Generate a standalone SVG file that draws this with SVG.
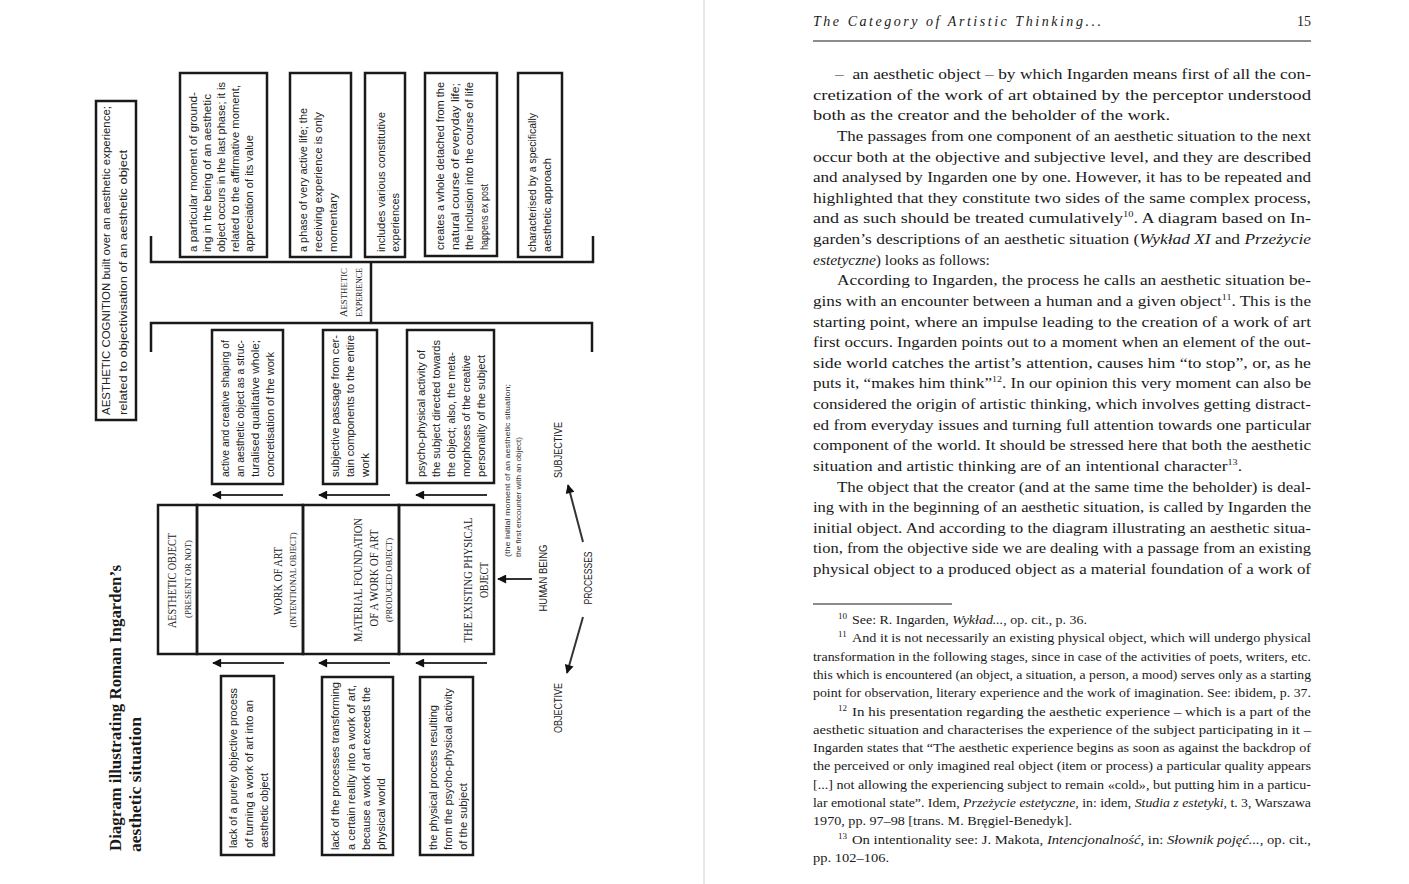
<svg xmlns="http://www.w3.org/2000/svg" width="1409" height="884" viewBox="0 0 1409 884">
<defs>
<style>
.bx{fill:none;stroke:#1a1a1a;stroke-width:2.5}
.ln{fill:none;stroke:#1a1a1a;stroke-width:2.5}
.ar{fill:none;stroke:#333;stroke-width:2}
.bt{font-family:"Liberation Sans",Arial,sans-serif;font-size:11px;fill:#222}
.cp{font-family:"Liberation Serif","Times New Roman",serif;font-size:12px;fill:#222}
.cs{font-family:"Liberation Serif","Times New Roman",serif;font-size:8.5px;fill:#222}
.nr{font-family:"Liberation Sans",Arial,sans-serif;font-size:11px;fill:#222}
.sm{font-family:"Liberation Sans",Arial,sans-serif;font-size:8px;fill:#333}
.ti{font-family:"Liberation Serif","Times New Roman",serif;font-size:17px;font-weight:bold;fill:#1a1a1a}
.bd{font-family:"Liberation Serif","Times New Roman",serif;font-size:15.5px;fill:#1a1a1a}
.fn{font-family:"Liberation Serif","Times New Roman",serif;font-size:12.8px;fill:#1a1a1a}
.hd{font-family:"Liberation Serif","Times New Roman",serif;font-size:14px;font-style:italic;fill:#1a1a1a}
.pg{font-family:"Liberation Serif","Times New Roman",serif;font-size:14px;fill:#1a1a1a}
.sup{font-size:9px}
.fsup{font-family:"Liberation Serif","Times New Roman",serif;font-size:9px;fill:#1a1a1a}
</style>
<marker id="ah" viewBox="0 0 10 10" refX="9" refY="5" markerWidth="12" markerHeight="9" markerUnits="userSpaceOnUse" orient="auto"><path d="M0,0 L10,5 L0,10 z" fill="#111"/></marker>
</defs>
<rect width="1409" height="884" fill="#fff"/>
<line x1="704" y1="0" x2="704" y2="884" stroke="#d0d0d0" stroke-width="1"/>

<!-- Title -->
<g id="title">
<text class="ti" transform="translate(121,851) rotate(-90)" textLength="286" lengthAdjust="spacingAndGlyphs">Diagram illustrating Roman Ingarden’s</text>
<text class="ti" transform="translate(141,852) rotate(-90)" textLength="135" lengthAdjust="spacingAndGlyphs">aesthetic situation</text>
</g>

<g id="aesthetic-cognition">
<rect class="bx" x="96" y="101" width="40" height="319"/>
<text class="bt" transform="translate(110,415) rotate(-90)" textLength="309" lengthAdjust="spacingAndGlyphs">AESTHETIC COGNITION built over an aesthetic experience;</text>
<text class="bt" transform="translate(127,415) rotate(-90)" textLength="265" lengthAdjust="spacingAndGlyphs">related to objectivisation of an aesthetic object</text>
</g>

<!-- top boxes -->
<g id="top-1">
<rect class="bx" x="180" y="73" width="87" height="184"/>
<text class="bt" transform="translate(197,252) rotate(-90)" textLength="160" lengthAdjust="spacingAndGlyphs">a particular moment of ground-</text>
<text class="bt" transform="translate(211,252) rotate(-90)" textLength="158" lengthAdjust="spacingAndGlyphs">ing in the being of an aesthetic</text>
<text class="bt" transform="translate(225,252) rotate(-90)" textLength="170" lengthAdjust="spacingAndGlyphs">object occurs in the last phase; it is</text>
<text class="bt" transform="translate(239,252) rotate(-90)" textLength="167" lengthAdjust="spacingAndGlyphs">related to the affirmative moment,</text>
<text class="bt" transform="translate(253,252) rotate(-90)" textLength="117" lengthAdjust="spacingAndGlyphs">appreciation of its value</text>
</g>
<g id="top-2">
<rect class="bx" x="290" y="73" width="61" height="184"/>
<text class="bt" transform="translate(307,252) rotate(-90)" textLength="144" lengthAdjust="spacingAndGlyphs">a phase of very active life; the</text>
<text class="bt" transform="translate(322,252) rotate(-90)" textLength="140" lengthAdjust="spacingAndGlyphs">receiving experience is only</text>
<text class="bt" transform="translate(337,252) rotate(-90)" textLength="59" lengthAdjust="spacingAndGlyphs">momentary</text>
</g>
<g id="top-3">
<rect class="bx" x="365" y="73" width="40" height="184"/>
<text class="bt" transform="translate(385,252) rotate(-90)" textLength="140" lengthAdjust="spacingAndGlyphs">includes various constitutive</text>
<text class="bt" transform="translate(399,252) rotate(-90)" textLength="59" lengthAdjust="spacingAndGlyphs">experiences</text>
</g>
<g id="top-4">
<rect class="bx" x="425" y="73" width="72" height="183"/>
<text class="bt" transform="translate(444,250) rotate(-90)" textLength="168" lengthAdjust="spacingAndGlyphs">creates a whole detached from the</text>
<text class="bt" transform="translate(458.5,250) rotate(-90)" textLength="167" lengthAdjust="spacingAndGlyphs">natural course of everyday life;</text>
<text class="bt" transform="translate(473,250) rotate(-90)" textLength="168" lengthAdjust="spacingAndGlyphs">the inclusion into the course of life</text>
<text class="bt" transform="translate(487.5,250) rotate(-90)" textLength="66" lengthAdjust="spacingAndGlyphs">happens ex post</text>
</g>
<g id="top-5">
<rect class="bx" x="518" y="73" width="44" height="184"/>
<text class="bt" transform="translate(536,252) rotate(-90)" textLength="139" lengthAdjust="spacingAndGlyphs">characterised by a specifically</text>
<text class="bt" transform="translate(551,252) rotate(-90)" textLength="94" lengthAdjust="spacingAndGlyphs">aesthetic approach</text>
</g>

<g id="aesthetic-experience">
<path class="ln" d="M151,236 V262 H593 V236"/>
<path class="ln" d="M151,352 V323 H592 V352"/>
<path class="ln" d="M371,262 V323"/>
<text class="cs" transform="translate(347,317) rotate(-90)" textLength="49" lengthAdjust="spacingAndGlyphs"><tspan font-size="10">A</tspan>ESTHETIC</text>
<text class="cs" transform="translate(362,317) rotate(-90)" textLength="49" lengthAdjust="spacingAndGlyphs">EXPERIENCE</text>
</g>

<!-- middle boxes -->
<g id="mid-1">
<rect class="bx" x="212" y="330" width="71" height="154"/>
<text class="bt" transform="translate(229,477) rotate(-90)" textLength="137" lengthAdjust="spacingAndGlyphs">active and creative shaping of</text>
<text class="bt" transform="translate(244,477) rotate(-90)" textLength="137" lengthAdjust="spacingAndGlyphs">an aesthetic object as a struc-</text>
<text class="bt" transform="translate(259,477) rotate(-90)" textLength="137" lengthAdjust="spacingAndGlyphs">turalised qualitative whole;</text>
<text class="bt" transform="translate(274,477) rotate(-90)" textLength="125" lengthAdjust="spacingAndGlyphs">concretisation of the work</text>
</g>
<g id="mid-2">
<rect class="bx" x="323" y="330" width="54" height="154"/>
<text class="bt" transform="translate(339,477) rotate(-90)" textLength="142" lengthAdjust="spacingAndGlyphs">subjective  passage  from  cer-</text>
<text class="bt" transform="translate(354,477) rotate(-90)" textLength="142" lengthAdjust="spacingAndGlyphs">tain components to the entire</text>
<text class="bt" transform="translate(369,477) rotate(-90)" textLength="24" lengthAdjust="spacingAndGlyphs">work</text>
</g>
<g id="mid-3">
<rect class="bx" x="407" y="330" width="87" height="153"/>
<text class="bt" transform="translate(425,477) rotate(-90)" textLength="127" lengthAdjust="spacingAndGlyphs">psycho-physical activity of</text>
<text class="bt" transform="translate(440,477) rotate(-90)" textLength="137" lengthAdjust="spacingAndGlyphs">the subject directed towards</text>
<text class="bt" transform="translate(455,477) rotate(-90)" textLength="125" lengthAdjust="spacingAndGlyphs">the object; also, the meta-</text>
<text class="bt" transform="translate(470,477) rotate(-90)" textLength="122" lengthAdjust="spacingAndGlyphs">morphoses of the creative</text>
<text class="bt" transform="translate(485,477) rotate(-90)" textLength="122" lengthAdjust="spacingAndGlyphs">personality of the subject</text>
</g>

<!-- main box -->
<g id="aesthetic-object">
<rect class="bx" x="158" y="505" width="39" height="149"/>
<text class="cp" transform="translate(176,580.5) rotate(-90)" text-anchor="middle" textLength="95" lengthAdjust="spacingAndGlyphs">AESTHETIC OBJECT</text>
<text class="cs" transform="translate(191,579) rotate(-90)" text-anchor="middle" textLength="78" lengthAdjust="spacingAndGlyphs">(PRESENT OR NOT)</text>
</g>
<g id="work-of-art">
<rect class="bx" x="197" y="505" width="106" height="149"/>
<text class="cp" transform="translate(282,581) rotate(-90)" text-anchor="middle" textLength="68" lengthAdjust="spacingAndGlyphs">WORK OF ART</text>
<text class="cs" transform="translate(296,580) rotate(-90)" text-anchor="middle" textLength="95" lengthAdjust="spacingAndGlyphs">(INTENTIONAL OBJECT)</text>
</g>
<g id="material-foundation">
<rect class="bx" x="303" y="505" width="96" height="149"/>
<text class="cp" transform="translate(362,580) rotate(-90)" text-anchor="middle" textLength="124" lengthAdjust="spacingAndGlyphs">MATERIAL FOUNDATION</text>
<text class="cp" transform="translate(378,578) rotate(-90)" text-anchor="middle" textLength="97" lengthAdjust="spacingAndGlyphs">OF A WORK OF ART</text>
<text class="cs" transform="translate(392,580) rotate(-90)" text-anchor="middle" textLength="84" lengthAdjust="spacingAndGlyphs">(PRODUCED OBJECT)</text>
</g>
<g id="existing-physical-object">
<rect class="bx" x="399" y="505" width="95" height="149"/>
<text class="cp" transform="translate(472,580) rotate(-90)" text-anchor="middle" textLength="125" lengthAdjust="spacingAndGlyphs">THE EXISTING PHYSICAL</text>
<text class="cp" transform="translate(488,580) rotate(-90)" text-anchor="middle" textLength="36" lengthAdjust="spacingAndGlyphs">OBJECT</text>
</g>

<!-- bottom boxes -->
<g id="bot-1">
<rect class="bx" x="221" y="676" width="53" height="179"/>
<text class="bt" transform="translate(237,848) rotate(-90)" textLength="160" lengthAdjust="spacingAndGlyphs">lack of a purely objective process</text>
<text class="bt" transform="translate(253,848) rotate(-90)" textLength="148" lengthAdjust="spacingAndGlyphs">of turning a work of art into an</text>
<text class="bt" transform="translate(268,848) rotate(-90)" textLength="75" lengthAdjust="spacingAndGlyphs">aesthetic object</text>
</g>
<g id="bot-2">
<rect class="bx" x="322" y="677" width="71" height="178"/>
<text class="bt" transform="translate(339,850) rotate(-90)" textLength="168" lengthAdjust="spacingAndGlyphs">lack of the processes transforming</text>
<text class="bt" transform="translate(355,850) rotate(-90)" textLength="165" lengthAdjust="spacingAndGlyphs">a certain reality into a work of art,</text>
<text class="bt" transform="translate(370,850) rotate(-90)" textLength="163" lengthAdjust="spacingAndGlyphs">because a work of art exceeds the</text>
<text class="bt" transform="translate(385,850) rotate(-90)" textLength="72" lengthAdjust="spacingAndGlyphs">physical world</text>
</g>
<g id="bot-3">
<rect class="bx" x="420" y="677" width="53" height="178"/>
<text class="bt" transform="translate(437,850) rotate(-90)" textLength="145" lengthAdjust="spacingAndGlyphs">the physical process resulting</text>
<text class="bt" transform="translate(452,850) rotate(-90)" textLength="162" lengthAdjust="spacingAndGlyphs">from the psycho-physical activity</text>
<text class="bt" transform="translate(467,850) rotate(-90)" textLength="67" lengthAdjust="spacingAndGlyphs">of the subject</text>
</g>

<g id="initial-moment">
<text class="sm" transform="translate(510,557) rotate(-90)" textLength="173" lengthAdjust="spacingAndGlyphs">(the initial moment of an aesthetic situation;</text>
<text class="sm" transform="translate(521,557) rotate(-90)" textLength="120" lengthAdjust="spacingAndGlyphs">the first encounter with an object)</text>
</g>
<g id="human-being">
<text class="nr" transform="translate(547,578) rotate(-90)" text-anchor="middle" textLength="67" lengthAdjust="spacingAndGlyphs">HUMAN BEING</text>
</g>
<g id="processes">
<text class="nr" transform="translate(592,578) rotate(-90)" text-anchor="middle" textLength="53" lengthAdjust="spacingAndGlyphs">PROCESSES</text>
</g>
<g id="subjective">
<text class="nr" transform="translate(562,450) rotate(-90)" text-anchor="middle" textLength="56" lengthAdjust="spacingAndGlyphs">SUBJECTIVE</text>
</g>
<g id="objective">
<text class="nr" transform="translate(562,708) rotate(-90)" text-anchor="middle" textLength="50" lengthAdjust="spacingAndGlyphs">OBJECTIVE</text>
</g>

<g id="connectors">
<line class="ar" x1="283" y1="495" x2="213" y2="495" marker-end="url(#ah)"/>
<line class="ar" x1="390" y1="495" x2="319" y2="495" marker-end="url(#ah)"/>
<line class="ar" x1="487" y1="495" x2="416" y2="495" marker-end="url(#ah)"/>
<line class="ar" x1="284" y1="663" x2="213" y2="663" marker-end="url(#ah)"/>
<line class="ar" x1="390" y1="663" x2="319" y2="663" marker-end="url(#ah)"/>
<line class="ar" x1="487" y1="663" x2="416" y2="663" marker-end="url(#ah)"/>
<line class="ar" x1="532" y1="579" x2="498" y2="579" marker-end="url(#ah)"/>
<line class="ar" x1="583" y1="542" x2="568" y2="485" marker-end="url(#ah)"/>
<line class="ar" x1="583" y1="617" x2="567" y2="673" marker-end="url(#ah)"/>
</g>

<!-- right page -->
<g id="header">
<text class="hd" x="813" y="26" textLength="288" lengthAdjust="spacing">The Category of Artistic Thinking...</text>
<text class="pg" x="1311" y="26" text-anchor="end">15</text>
<line x1="813" y1="41" x2="1311" y2="41" stroke="#1a1a1a" stroke-width="1.2"/>
</g>

<g id="body">
<text class="bd" x="835" y="79" textLength="476" lengthAdjust="spacingAndGlyphs">– &#160;an aesthetic object – by which Ingarden means first of all the con-</text>
<text class="bd" x="813" y="99.6" textLength="498" lengthAdjust="spacingAndGlyphs">cretization of the work of art obtained by the perceptor understood</text>
<text class="bd" x="813" y="120.3" textLength="357" lengthAdjust="spacingAndGlyphs">both as the creator and the beholder of the work.</text>
<text class="bd" x="837" y="140.9" textLength="474" lengthAdjust="spacingAndGlyphs">The passages from one component of an aesthetic situation to the next</text>
<text class="bd" x="813" y="161.5" textLength="498" lengthAdjust="spacingAndGlyphs">occur both at the objective and subjective level, and they are described</text>
<text class="bd" x="813" y="182.1" textLength="498" lengthAdjust="spacingAndGlyphs">and analysed by Ingarden one by one. However, it has to be repeated and</text>
<text class="bd" x="813" y="202.8" textLength="498" lengthAdjust="spacingAndGlyphs">highlighted that they constitute two sides of the same complex process,</text>
<text class="bd" x="813" y="223.4" textLength="498" lengthAdjust="spacingAndGlyphs">and as such should be treated cumulatively<tspan class="sup" dy="-6">10</tspan><tspan dy="6">. A diagram based on In-</tspan></text>
<text class="bd" x="813" y="244" textLength="498" lengthAdjust="spacingAndGlyphs">garden’s descriptions of an aesthetic situation (<tspan font-style="italic">Wykład XI</tspan> and <tspan font-style="italic">Przeżycie</tspan></text>
<text class="bd" x="813" y="264.6"><tspan font-style="italic">estetyczne</tspan>) looks as follows:</text>
<text class="bd" x="837" y="285.3" textLength="474" lengthAdjust="spacingAndGlyphs">According to Ingarden, the process he calls an aesthetic situation be-</text>
<text class="bd" x="813" y="305.9" textLength="498" lengthAdjust="spacingAndGlyphs">gins with an encounter between a human and a given object<tspan class="sup" dy="-6">11</tspan><tspan dy="6">. This is the</tspan></text>
<text class="bd" x="813" y="326.5" textLength="498" lengthAdjust="spacingAndGlyphs">starting point, where an impulse leading to the creation of a work of art</text>
<text class="bd" x="813" y="347.1" textLength="498" lengthAdjust="spacingAndGlyphs">first occurs. Ingarden points out to a moment when an element of the out-</text>
<text class="bd" x="813" y="367.8" textLength="498" lengthAdjust="spacingAndGlyphs">side world catches the artist’s attention, causes him “to stop”, or, as he</text>
<text class="bd" x="813" y="388.4" textLength="498" lengthAdjust="spacingAndGlyphs">puts it, “makes him think”<tspan class="sup" dy="-6">12</tspan><tspan dy="6">. In our opinion this very moment can also be</tspan></text>
<text class="bd" x="813" y="409" textLength="498" lengthAdjust="spacingAndGlyphs">considered the origin of artistic thinking, which involves getting distract-</text>
<text class="bd" x="813" y="429.6" textLength="498" lengthAdjust="spacingAndGlyphs">ed from everyday issues and turning full attention towards one particular</text>
<text class="bd" x="813" y="450.3" textLength="498" lengthAdjust="spacingAndGlyphs">component of the world. It should be stressed here that both the aesthetic</text>
<text class="bd" x="813" y="470.9" textLength="429" lengthAdjust="spacingAndGlyphs">situation and artistic thinking are of an intentional character<tspan class="sup" dy="-6">13</tspan><tspan dy="6">.</tspan></text>
<text class="bd" x="837" y="491.5" textLength="474" lengthAdjust="spacingAndGlyphs">The object that the creator (and at the same time the beholder) is deal-</text>
<text class="bd" x="813" y="512.1" textLength="498" lengthAdjust="spacingAndGlyphs">ing with in the beginning of an aesthetic situation, is called by Ingarden the</text>
<text class="bd" x="813" y="532.8" textLength="498" lengthAdjust="spacingAndGlyphs">initial object. And according to the diagram illustrating an aesthetic situa-</text>
<text class="bd" x="813" y="553.4" textLength="498" lengthAdjust="spacingAndGlyphs">tion, from the objective side we are dealing with a passage from an existing</text>
<text class="bd" x="813" y="574" textLength="498" lengthAdjust="spacingAndGlyphs">physical object to a produced object as a material foundation of a work of</text>
</g>

<g id="footnotes">
<line x1="813" y1="604" x2="952" y2="604" stroke="#1a1a1a" stroke-width="1"/>
<text class="fsup" x="838" y="619">10</text>
<text class="fn" x="852" y="624" textLength="235" lengthAdjust="spacingAndGlyphs">See: R. Ingarden, <tspan font-style="italic">Wykład...</tspan>, op. cit., p. 36.</text>
<text class="fsup" x="838" y="637.3">11</text>
<text class="fn" x="852" y="642.3" textLength="459" lengthAdjust="spacingAndGlyphs">And it is not necessarily an existing physical object, which will undergo physical</text>
<text class="fn" x="813" y="660.6" textLength="498" lengthAdjust="spacingAndGlyphs">transformation in the following stages, since in case of the activities of poets, writers, etc.</text>
<text class="fn" x="813" y="678.9" textLength="498" lengthAdjust="spacingAndGlyphs">this which is encountered (an object, a situation, a person, a mood) serves only as a starting</text>
<text class="fn" x="813" y="697.2" textLength="498" lengthAdjust="spacingAndGlyphs">point for observation, literary experience and the work of imagination. See: ibidem, p. 37.</text>
<text class="fsup" x="838" y="710.5">12</text>
<text class="fn" x="852" y="715.5" textLength="459" lengthAdjust="spacingAndGlyphs">In his presentation regarding the aesthetic experience – which is a part of the</text>
<text class="fn" x="813" y="733.8" textLength="498" lengthAdjust="spacingAndGlyphs">aesthetic situation and characterises the experience of the subject participating in it –</text>
<text class="fn" x="813" y="752.1" textLength="498" lengthAdjust="spacingAndGlyphs">Ingarden states that “The aesthetic experience begins as soon as against the backdrop of</text>
<text class="fn" x="813" y="770.4" textLength="498" lengthAdjust="spacingAndGlyphs">the perceived or only imagined real object (item or process) a particular quality appears</text>
<text class="fn" x="813" y="788.7" textLength="498" lengthAdjust="spacingAndGlyphs">[...] not allowing the experiencing subject to remain «cold», but putting him in a particu-</text>
<text class="fn" x="813" y="807" textLength="498" lengthAdjust="spacingAndGlyphs">lar emotional state”. Idem, <tspan font-style="italic">Przeżycie estetyczne</tspan>, in: idem, <tspan font-style="italic">Studia z estetyki</tspan>, t. 3, Warszawa</text>
<text class="fn" x="813" y="825.3" textLength="259" lengthAdjust="spacingAndGlyphs">1970, pp. 97–98 [trans. M. Bręgiel-Benedyk].</text>
<text class="fsup" x="838" y="838.6">13</text>
<text class="fn" x="852" y="843.6" textLength="459" lengthAdjust="spacingAndGlyphs">On intentionality see: J. Makota, <tspan font-style="italic">Intencjonalność</tspan>, in: <tspan font-style="italic">Słownik pojęć...</tspan>, op. cit.,</text>
<text class="fn" x="813" y="861.9" textLength="76" lengthAdjust="spacingAndGlyphs">pp. 102–106.</text>
</g>
</svg>
